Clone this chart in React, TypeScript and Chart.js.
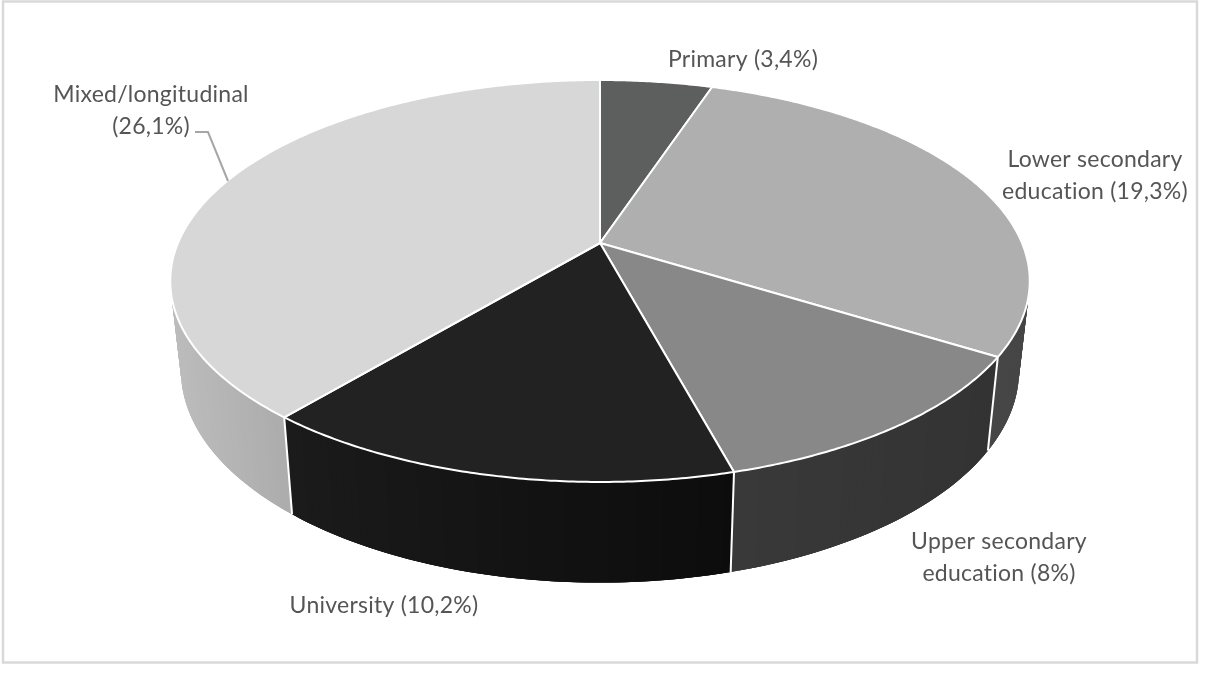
import React, { useEffect, useRef } from "react";
import { Chart, registerables } from "chart.js";

Chart.register(...registerables);

const categories = ["Primary", "Lower secondary education", "Upper secondary education", "University", "Mixed/longitudinal"];
const shares = [3.4, 19.3, 8, 10.2, 26.1];
const topColors = ["#5d5f5e", "#afafaf", "#888888", "#222222", "#d7d7d7"];
// grey level of each slice's side wall at its left and right screen ends
const sideGreys = [[70, 70], [70, 70], [57, 51], [27, 12], [188, 172]];
const sideRanges = [[600, 720], [985, 1030], [730, 990], [290, 732], [172, 292]];
const labelLines = [
  ["Primary (3,4%)"],
  ["Lower secondary", "education (19,3%)"],
  ["Upper secondary", "education (8%)"],
  ["University (10,2%)"],
  ["Mixed/longitudinal", "(26,1%)"],
];
const labelAnchors = [
  [743, 60],
  [1095, 160],
  [999, 542],
  [384, 606],
  [151, 95],
];
const LINE_HEIGHT = 31.5;

// Perspective projection of the unit disc onto the canvas
const CX = 600;
const TOP = { y0: 243, a: 193.8, A: 422, c: -0.189 };
const BOTTOM = { y0: 330.3, a: 204.6, A: 411.5, c: -0.189 };

function project(theta: number, r: number, p: typeof TOP) {
  const u = r * Math.sin(theta);
  const v = -r * Math.cos(theta);
  const d = 1 + p.c * v;
  return { x: CX + (p.A * u) / d, y: p.y0 + (p.a * v) / d };
}

const pie3d = {
  id: "pie3d",
  beforeDatasetsDraw(chart: any) {
    const ctx: any = chart.ctx;
    const arcs = chart.getDatasetMeta(0).data.map((el: any, i: number) => ({
      i,
      from: el.startAngle + Math.PI / 2,
      to: el.endAngle + Math.PI / 2,
    }));
    const step = Math.PI / 180;

    ctx.save();

    // frame
    ctx.strokeStyle = "#d9d9d9";
    ctx.lineWidth = 2.5;
    ctx.strokeRect(3, 1.5, 1194, 661);

    // side wall, back to front; neighbouring strips overlap so no seams show
    const strips: any[] = [];
    arcs.forEach((arc: any) => {
      for (let t = arc.from; t < arc.to - 1e-6; t += step) {
        const e = Math.min(t + step, arc.to);
        strips.push({
          i: arc.i,
          t: Math.max(arc.from, t - step),
          e: Math.min(arc.to, e + step),
          mid: (t + e) / 2,
          depth: -Math.cos((t + e) / 2),
        });
      }
    });
    strips.sort((a, b) => a.depth - b.depth);
    strips.forEach((s) => {
      const pts: { x: number; y: number }[] = [];
      for (const th of [s.t, s.mid, s.e]) pts.push(project(th, 1, TOP));
      for (const th of [s.e, s.mid, s.t]) pts.push(project(th, 1, BOTTOM));
      const [g0, g1] = sideGreys[s.i];
      const [x0, x1] = sideRanges[s.i];
      const f = Math.max(0, Math.min(1, (project(s.mid, 1, TOP).x - x0) / (x1 - x0)));
      const g = Math.round(g0 + (g1 - g0) * f);
      ctx.fillStyle = `rgb(${g},${g},${g})`;
      ctx.beginPath();
      pts.forEach((p, k) => (k ? ctx.lineTo(p.x, p.y) : ctx.moveTo(p.x, p.y)));
      ctx.closePath();
      ctx.fill();
    });

    // white seams on the wall
    ctx.strokeStyle = "#ffffff";
    ctx.lineWidth = 2;
    arcs.forEach((arc: any) => {
      const a = project(arc.from, 1, TOP);
      const b = project(arc.from, 1, BOTTOM);
      ctx.beginPath();
      ctx.moveTo(a.x, a.y);
      ctx.lineTo(b.x, b.y);
      ctx.stroke();
    });

    // top faces
    arcs.forEach((arc: any) => {
      const apex = project(0, 0, TOP);
      ctx.beginPath();
      ctx.moveTo(apex.x, apex.y);
      for (let t = arc.from; t < arc.to; t += step / 2) {
        const p = project(t, 1, TOP);
        ctx.lineTo(p.x, p.y);
      }
      const end = project(arc.to, 1, TOP);
      ctx.lineTo(end.x, end.y);
      ctx.closePath();
      ctx.fillStyle = topColors[arc.i];
      ctx.fill();
      ctx.strokeStyle = "#ffffff";
      ctx.lineWidth = 2;
      ctx.lineJoin = "round";
      ctx.stroke();
    });

    // leader line for the Mixed/longitudinal label
    ctx.strokeStyle = "#a6a6a6";
    ctx.lineWidth = 2;
    ctx.lineJoin = "miter";
    ctx.beginPath();
    ctx.moveTo(195, 132);
    ctx.lineTo(208, 132);
    ctx.lineTo(228, 181);
    ctx.stroke();

    // labels
    ctx.fillStyle = "#555555";
    ctx.font = '23px Lato, "Open Sans", sans-serif';
    ctx.letterSpacing = "0.25px";
    ctx.textAlign = "center";
    ctx.textBaseline = "middle";
    labelLines.forEach((lines, i) => {
      lines.forEach((line, k) => {
        ctx.fillText(line, labelAnchors[i][0], labelAnchors[i][1] + k * LINE_HEIGHT);
      });
    });

    ctx.restore();
    return false;
  },
};

export default function App() {
  const ref = useRef<HTMLCanvasElement>(null);
  useEffect(() => {
    document.body.style.margin = "0";
    document.body.style.background = "#ffffff";
    const chart = new Chart(ref.current!, {
      type: "pie",
      data: {
        labels: categories,
        datasets: [{ data: shares, backgroundColor: topColors, borderColor: "#ffffff", borderWidth: 2 }],
      },
      options: {
        responsive: false,
        animation: false,
        plugins: { legend: { display: false }, tooltip: { enabled: false } },
      },
      plugins: [pie3d],
    } as any);
    return () => chart.destroy();
  }, []);
  return <canvas ref={ref} width={1219} height={689} style={{ display: "block", filter: "blur(0.45px)" }} />;
}
